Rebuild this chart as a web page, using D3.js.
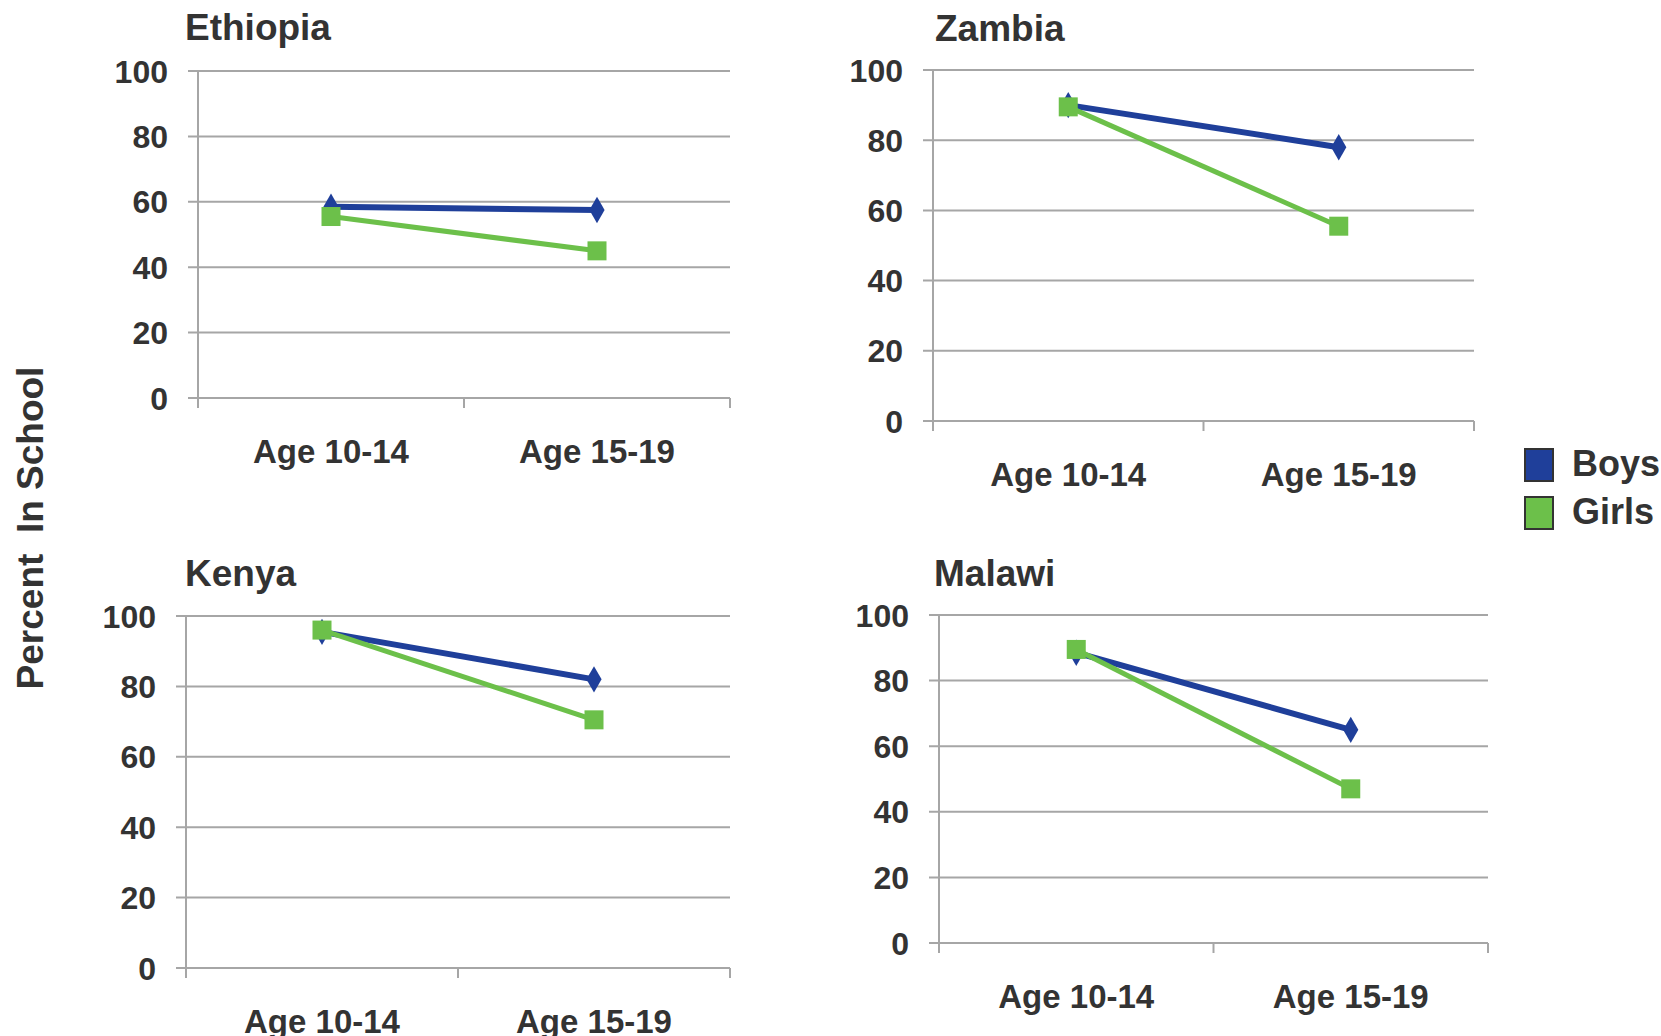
<!DOCTYPE html>
<html>
<head>
<meta charset="utf-8">
<script src="https://cdn.jsdelivr.net/npm/d3@7"></script>
<style>
  html, body { margin: 0; padding: 0; background: #fff; }
  svg { display: block; }
  text { font-family: "Liberation Sans", Arial, sans-serif; font-weight: bold; fill: #333; }
</style>
</head>
<body>
<svg id="chart" width="1661" height="1036"></svg>
<script>
// ---- data ----
const categories = ["Age 10-14", "Age 15-19"];
const countries = ["Ethiopia", "Zambia", "Kenya", "Malawi"];
const boys  = [[58.5, 57.5], [90, 78], [95.5, 82], [88.5, 65]];
const girls = [[55.5, 45], [89.5, 55.5], [96, 70.5], [89.5, 47]];
const yTicks = [0, 20, 40, 60, 80, 100];
const seriesNames = ["Boys", "Girls"];
const seriesColors = ["#1f3f9a", "#6cc04a"];

// ---- layout (pixel positions of each panel) ----
const panels = [
  { x0: 198, x1: 730,  yTop: 71,  yBot: 398, titleX: 185, titleY: 40 },
  { x0: 933, x1: 1474, yTop: 70,  yBot: 421, titleX: 935, titleY: 41 },
  { x0: 186, x1: 730,  yTop: 616, yBot: 968, titleX: 185, titleY: 586 },
  { x0: 939, x1: 1488, yTop: 615, yBot: 943, titleX: 934, titleY: 586 }
];

const svg = d3.select("#chart");
const gridColor = "#a6a6a6";

countries.forEach((name, i) => {
  const p = panels[i];
  const x = d3.scaleBand().domain(categories).range([p.x0, p.x1]).padding(0);
  const y = d3.scaleLinear().domain([0, 100]).range([p.yBot, p.yTop]);
  const g = svg.append("g");

  // gridlines
  g.selectAll("line.grid").data(yTicks).enter().append("line")
    .attr("x1", p.x0 - 10).attr("x2", p.x1)
    .attr("y1", d => y(d)).attr("y2", d => y(d))
    .attr("stroke", gridColor).attr("stroke-width", 2);

  // y axis line
  g.append("line")
    .attr("x1", p.x0).attr("x2", p.x0)
    .attr("y1", y(100)).attr("y2", y(0) + 10)
    .attr("stroke", gridColor).attr("stroke-width", 2);

  // x ticks at band boundaries
  const bounds = categories.map(c => x(c)).concat([x(categories[categories.length - 1]) + x.bandwidth()]);
  g.selectAll("line.xt").data(bounds).enter().append("line")
    .attr("x1", d => d).attr("x2", d => d)
    .attr("y1", y(0)).attr("y2", y(0) + 10)
    .attr("stroke", gridColor).attr("stroke-width", 2);

  // y tick labels
  g.selectAll("text.yl").data(yTicks).enter().append("text")
    .attr("x", p.x0 - 30).attr("y", d => y(d))
    .attr("dy", "0.36em")
    .attr("text-anchor", "end")
    .style("font-size", "32px")
    .text(d => d);

  // category labels
  g.selectAll("text.xl").data(categories).enter().append("text")
    .attr("x", d => x(d) + x.bandwidth() / 2)
    .attr("y", y(0) + 65)
    .attr("text-anchor", "middle")
    .style("font-size", "33px")
    .text(d => d);

  // title
  g.append("text")
    .attr("x", p.titleX).attr("y", p.titleY)
    .style("font-size", "37px")
    .text(name);

  const cx = d => x(d) + x.bandwidth() / 2;
  const line = d3.line().x(d => cx(d.c)).y(d => y(d.v));

  // Boys
  const bData = categories.map((c, k) => ({ c, v: boys[i][k] }));
  g.append("path").datum(bData)
    .attr("d", line).attr("fill", "none")
    .attr("stroke", seriesColors[0]).attr("stroke-width", 6);
  const diamond = d3.symbol().type(d3.symbolDiamond).size(200);
  g.selectAll("path.bm").data(bData).enter().append("path")
    .attr("d", diamond)
    .attr("transform", d => `translate(${cx(d.c)},${y(d.v)})`)
    .attr("fill", seriesColors[0]);

  // Girls
  const gData = categories.map((c, k) => ({ c, v: girls[i][k] }));
  g.append("path").datum(gData)
    .attr("d", line).attr("fill", "none")
    .attr("stroke", seriesColors[1]).attr("stroke-width", 5);
  g.selectAll("rect.gm").data(gData).enter().append("rect")
    .attr("x", d => cx(d.c) - 9.5).attr("y", d => y(d.v) - 9.5)
    .attr("width", 19).attr("height", 19)
    .attr("fill", seriesColors[1]);
});

// y-axis title
svg.append("text")
  .attr("transform", "translate(43,528) rotate(-90)")
  .attr("text-anchor", "middle")
  .style("font-size", "37px")
  .text("Percent\u00a0 In School");

// legend
const legend = svg.append("g");
seriesNames.forEach((s, k) => {
  const ly = 449 + k * 48;
  legend.append("rect")
    .attr("x", 1525).attr("y", ly)
    .attr("width", 28).attr("height", 32)
    .attr("fill", seriesColors[k])
    .attr("stroke", "#333").attr("stroke-width", 2);
  legend.append("text")
    .attr("x", 1572).attr("y", ly + 27)
    .style("font-size", "36px")
    .text(s);
});
</script>
</body>
</html>
